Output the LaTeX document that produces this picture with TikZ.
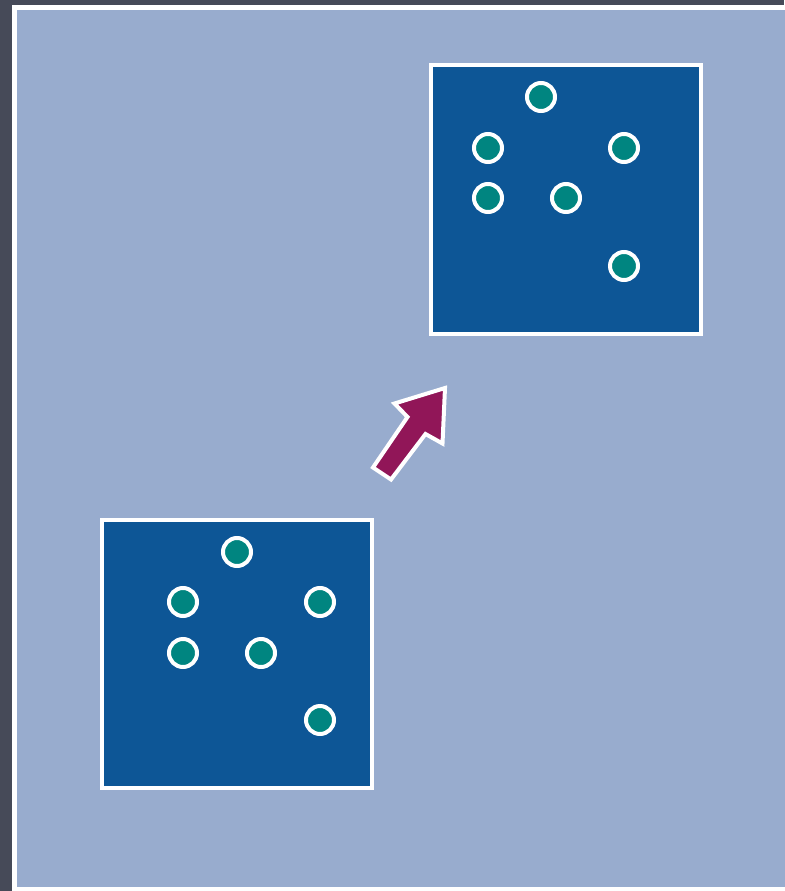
\documentclass[tikz,border=0pt]{standalone}
\usepackage{tikz}
\usetikzlibrary{calc}
\definecolor{SlateGray}{RGB}{70,74,88}
\definecolor{PaperBlue}{RGB}{152,172,206}
\definecolor{BoxBlue}{RGB}{13,86,150}
\definecolor{DotTeal}{RGB}{0,133,128}
\definecolor{ArrowPlum}{RGB}{145,22,88}
\tikzset{
  box/.style={draw=white,line width=4pt,fill=BoxBlue,inner sep=0pt,
    minimum width=270pt,minimum height=268pt},
  dot/.style={circle,draw=white,line width=4pt,fill=DotTeal,inner sep=0pt,
    minimum size=28pt}
}

\begin{document}
\begin{tikzpicture}[x=1pt,y=-1pt]
  \useasboundingbox (0,0) rectangle (784,891);
  \fill[SlateGray] (0,0) rectangle (784,891);
  \draw[white,line width=5pt,fill=PaperBlue] (14.5,7.5) rectangle (800,889);
  % before and after
  \node[box] (before) at (236.5,653.5) {};
  \node[box] (after) at (566,199.5) {};
  \foreach \n/\x/\y in {1/237/552,2/183/602,3/320/602,4/183/653,5/261/653,6/320/720}
    \node[dot] (b\n) at (\x,\y) {};
  \foreach \n/\x/\y in {1/541/97,2/488/148,3/624/148,4/488/198,5/566/198,6/624/266}
    \node[dot] (a\n) at (\x,\y) {};
  % move arrow
  \draw[white,line width=4pt,fill=ArrowPlum,line join=miter]
    (445,388) -- (394.5,403.5) -- (407.5,417) -- (373,467.5)
    -- (391,479.5) -- (425.5,434) -- (442.5,443.5) -- cycle;
\end{tikzpicture}
\end{document}
